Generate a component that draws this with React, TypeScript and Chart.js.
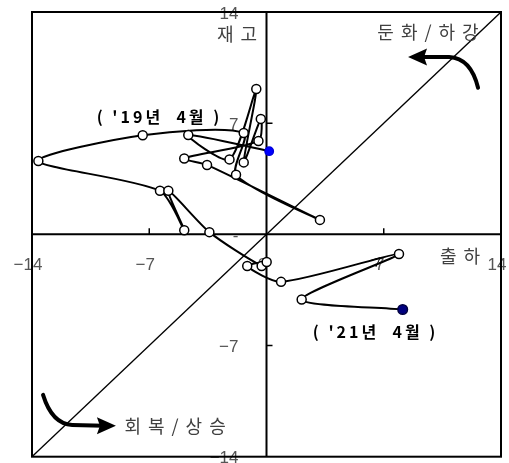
import React, { useEffect, useRef } from 'react';
import { Chart, registerables } from 'chart.js';

Chart.register(...registerables);

// Monthly path, '19.4 → '21.4 (x: 출하 증감률, y: 재고 증감률)
const periods = [
  "19.4", "19.5", "19.6", "19.7", "19.8", "19.9", "19.10", "19.11", "19.12",
  "20.1", "20.2", "20.3", "20.4", "20.5", "20.6", "20.7", "20.8", "20.9",
  "20.10", "20.11", "20.12", "21.1", "21.2", "21.3", "21.4",
];
const shipment = [
  0.16, -4.67, -2.21, -0.61, -1.36, -0.34, -0.48, -4.91, -3.55,
  3.19, -1.82, -1.36, -7.39, -13.62, -6.36, -4.91, -5.86, -3.41,
  -0.29, 0.01, -1.15, 0.87, 7.91, 2.10, 8.13,
];
const inventory = [
  5.24, 6.25, 4.72, 9.15, 4.53, 7.27, 5.88, 4.78, 4.37,
  0.91, 3.75, 6.38, 6.24, 4.62, 2.74, 0.26, 2.74, 0.14,
  -1.99, -1.74, -1.99, -2.99, -1.24, -4.10, -4.73,
];

// 45-degree reference line
const diagX = [-14, 14];
const diagY = [-14, 14];

// axis ticks
const tickValues = [-14, -7, 0, 7, 14];
const xTickLabels = ["\u221214", "\u22127", "0", "7", "14"];
const yTickLabels = ["\u221214", "\u22127", "-", "7", "14"];
const tickMarkValues = [-7, 7];

// text annotations (data units)
const quadrantTexts = [
  { text: "재고", x: -1.76, y: 12.61 },
  { text: "둔화/하강", x: 9.64, y: 12.74 },
  { text: "출하", x: 11.55, y: -1.35 },
  { text: "회복/상승", x: -5.46, y: -12.05 },
];
const periodTexts = [
  { text: "( '19년  4월 )", x: -6.48, y: 7.42 },
  { text: "( '21년  4월 )", x: 6.42, y: -6.17 },
];

// curved arrows (data units): start, control, corner, tip
const arrowTopRight = { start: [12.63, 9.23], ctrl: [12.2, 11.1], corner: [10.9, 11.17], tip: [8.45, 11.17] };
const arrowBottomLeft = { start: [-13.34, -10.11], ctrl: [-12.8, -11.95], corner: [-11.6, -12.0], tip: [-8.99, -12.05] };
// small direction mark on the '21.1 → '21.2 segment
const smallArrow = { tip: [6.78, -1.47], b1: [6.18, -1.66], b2: [6.54, -2.03] };

const n = shipment.length;
const pointBg = shipment.map((_, i) => (i === 0 ? '#0000ff' : i === n - 1 ? '#000080' : '#ffffff'));
const pointBorder = shipment.map((_, i) => (i === 0 ? '#0000dd' : i === n - 1 ? '#000040' : '#000000'));
const pointRad = shipment.map((_, i) => (i === 0 ? 4.2 : i === n - 1 ? 4.8 : 4.5));

function drawSpaced(ctx: CanvasRenderingContext2D, text: string, cx: number, cy: number, spacing: number) {
  const chars = Array.from(text);
  const widths = chars.map((c) => ctx.measureText(c).width);
  const total = widths.reduce((a, b) => a + b, 0) + spacing * (chars.length - 1);
  let x = cx - total / 2;
  ctx.textAlign = 'left';
  chars.forEach((c, i) => {
    ctx.fillText(c, x, cy);
    x += widths[i] + spacing;
  });
}

const decorPlugin = {
  id: 'decor',
  beforeDatasetsDraw(chart: any) {
    const { ctx, chartArea } = chart;
    const xs = chart.scales.x;
    const ys = chart.scales.y;
    const x0 = xs.getPixelForValue(0);
    const y0 = ys.getPixelForValue(0);
    ctx.save();
    // tick labels
    ctx.fillStyle = '#555555';
    ctx.font = '17px "Liberation Sans", Arial, sans-serif';
    ctx.textBaseline = 'middle';
    ctx.textAlign = 'center';
    tickValues.forEach((v, i) => {
      ctx.fillText(xTickLabels[i], xs.getPixelForValue(v) - 4, y0 + 31);
    });
    ctx.textAlign = 'right';
    tickValues.forEach((v, i) => {
      ctx.fillText(yTickLabels[i], x0 - 28, ys.getPixelForValue(v) + 2);
    });
    // frame
    ctx.strokeStyle = '#000';
    ctx.lineWidth = 2;
    ctx.strokeRect(chartArea.left, chartArea.top, chartArea.right - chartArea.left, chartArea.bottom - chartArea.top);
    // axes through zero
    ctx.beginPath();
    ctx.moveTo(x0, chartArea.top);
    ctx.lineTo(x0, chartArea.bottom);
    ctx.moveTo(chartArea.left, y0);
    ctx.lineTo(chartArea.right, y0);
    ctx.stroke();
    // tick marks
    ctx.lineWidth = 1.5;
    ctx.beginPath();
    tickMarkValues.forEach((v) => {
      const px = xs.getPixelForValue(v);
      ctx.moveTo(px, y0);
      ctx.lineTo(px, y0 - 6);
      const py = ys.getPixelForValue(v);
      ctx.moveTo(x0, py);
      ctx.lineTo(x0 + 6, py);
    });
    ctx.stroke();
    ctx.restore();
  },
  afterDatasetsDraw(chart: any) {
    const { ctx } = chart;
    const xs = chart.scales.x;
    const ys = chart.scales.y;
    const P = (p: number[]) => [xs.getPixelForValue(p[0]), ys.getPixelForValue(p[1])];
    ctx.save();
    ctx.textBaseline = 'middle';
    // quadrant texts
    ctx.fillStyle = '#404040';
    ctx.font = '18px "Noto Sans CJK KR", sans-serif';
    quadrantTexts.forEach((t) => {
      drawSpaced(ctx, t.text, xs.getPixelForValue(t.x), ys.getPixelForValue(t.y), 7);
    });
    // period texts
    ctx.fillStyle = '#000000';
    ctx.font = 'bold 16px "Noto Sans CJK KR", sans-serif';
    periodTexts.forEach((t) => {
      drawSpaced(ctx, t.text, xs.getPixelForValue(t.x), ys.getPixelForValue(t.y), 3);
    });
    // curved arrows
    const drawArrow = (a: any) => {
      const s = P(a.start), c = P(a.ctrl), k = P(a.corner), t = P(a.tip);
      const dir = Math.sign(t[0] - k[0]);
      ctx.strokeStyle = '#000';
      ctx.lineWidth = 4;
      ctx.lineCap = 'round';
      ctx.beginPath();
      ctx.moveTo(s[0], s[1]);
      ctx.quadraticCurveTo(c[0], c[1], k[0], k[1]);
      ctx.lineTo(t[0] - dir * 12, t[1]);
      ctx.stroke();
      ctx.fillStyle = '#000';
      ctx.beginPath();
      ctx.moveTo(t[0], t[1]);
      ctx.lineTo(t[0] - dir * 19, t[1] - 8.5);
      ctx.lineTo(t[0] - dir * 16, t[1]);
      ctx.lineTo(t[0] - dir * 19, t[1] + 8.5);
      ctx.closePath();
      ctx.fill();
    };
    drawArrow(arrowTopRight);
    drawArrow(arrowBottomLeft);
    // small arrow mark
    const t = P(smallArrow.tip), b1 = P(smallArrow.b1), b2 = P(smallArrow.b2);
    ctx.lineWidth = 1;
    ctx.beginPath();
    ctx.moveTo(b1[0], b1[1]);
    ctx.lineTo(t[0], t[1]);
    ctx.lineTo(b2[0], b2[1]);
    ctx.stroke();
    ctx.restore();
  },
};

export default function App() {
  const ref = useRef<HTMLCanvasElement>(null);
  useEffect(() => {
    const canvas = ref.current!;
    const chart = new Chart(canvas, {
      type: 'scatter',
      data: {
        labels: periods,
        datasets: [
          {
            label: '재고순환',
            data: shipment.map((x, i) => ({ x, y: inventory[i] })),
            showLine: true,
            borderColor: '#000000',
            borderWidth: 2,
            tension: 0.25,
            pointRadius: pointRad,
            pointBackgroundColor: pointBg,
            pointBorderColor: pointBorder,
            pointBorderWidth: 1.5,
            order: 0,
          } as any,
          {
            label: '45도선',
            data: diagX.map((x, i) => ({ x, y: diagY[i] })),
            showLine: true,
            borderColor: '#000000',
            borderWidth: 1.3,
            pointRadius: 0,
            order: 1,
          } as any,
        ],
      },
      options: {
        responsive: false,
        animation: false,
        devicePixelRatio: 1,
        events: [],
        layout: { padding: { left: 32, top: 12, right: 8, bottom: 4 } },
        plugins: { legend: { display: false }, tooltip: { enabled: false } },
        scales: {
          x: { type: 'linear', min: -14, max: 14, display: false },
          y: { type: 'linear', min: -14, max: 14, display: false },
        },
      },
      plugins: [decorPlugin],
    });
    return () => chart.destroy();
  }, []);
  return (
    <div style={{ position: 'absolute', left: 0, top: 0, width: 509, height: 463, background: '#ffffff' }}>
      <canvas ref={ref} width={509} height={463} style={{ display: 'block' }} />
    </div>
  );
}
